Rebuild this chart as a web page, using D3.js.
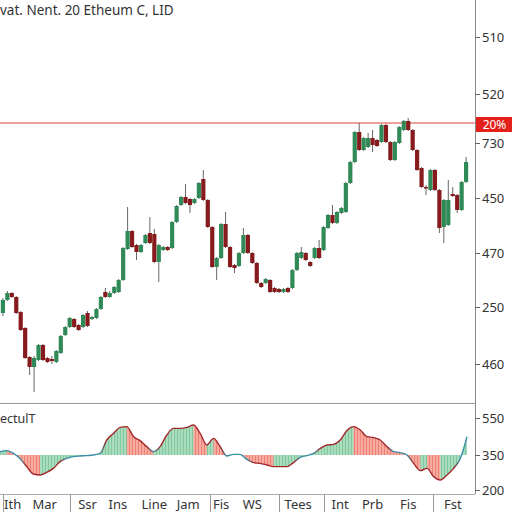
<!DOCTYPE html>
<html lang="en">
<head>
<meta charset="utf-8">
<title>candles</title>
<script src="https://cdn.jsdelivr.net/npm/d3@7"></script>
<style>
body { margin: 0; background: #fff; }
svg text { font-family: "Noto Sans", "Open Sans", sans-serif; }
</style>
</head>
<body>
<script>
var w = 512, h = 512;
var plotRight = 475;
var mainBottom = 403;
var indTop = 403, indBottom = 494;

// candle data (price units)
var opens = [1102,1128,1142,1134,1104,1072,1014,994,1008,1038,
  1012,1010,1004,1022,1058,1074,1090,1078,1074,1102,
  1090,1092,1110,1144,1134,1142,1144,1168,1230,1266,
  1238,1224,1242,1262,1260,1204,1228,1234,1232,1284,
  1318,1334,1330,1322,1332,1370,1328,1274,1194,1212,
  1280,1234,1198,1196,1222,1258,1222,1202,1162,1162,
  1168,1152,1150,1144,1152,1152,1188,1212,1222,1204,
  1212,1232,1228,1272,1298,1282,1302,1304,1362,1404,
  1464,1428,1434,1452,1448,1444,1478,1444,1408,1442,
  1468,1486,1468,1428,1392,1354,1348,1388,1348,1274,
  1278,1340,1338,1308,1364];
var closes = [1128,1142,1134,1102,1068,1012,994,1012,1038,1008,
  1004,1006,1026,1056,1074,1092,1074,1068,1098,1076,
  1094,1110,1134,1134,1142,1154,1168,1232,1266,1234,
  1224,1238,1258,1242,1204,1238,1234,1228,1284,1316,
  1334,1322,1318,1330,1362,1328,1274,1194,1212,1280,
  1234,1194,1192,1222,1258,1222,1202,1162,1154,1170,
  1144,1144,1144,1150,1144,1188,1222,1224,1208,1196,
  1232,1212,1274,1298,1282,1304,1312,1362,1404,1464,
  1428,1452,1452,1438,1436,1478,1444,1408,1444,1474,
  1486,1468,1428,1388,1354,1352,1388,1348,1272,1328,
  1328,1336,1308,1364,1404];
var highs = [1132,1146,1144,1136,1106,1074,1016,1016,1040,1040,
  1014,1016,1028,1058,1076,1094,1092,1080,1100,1106,
  1096,1112,1136,1152,1146,1156,1170,1234,1314,1268,
  1240,1240,1260,1294,1270,1240,1236,1236,1286,1318,
  1336,1360,1332,1332,1364,1388,1330,1276,1214,1282,
  1304,1236,1200,1224,1272,1260,1224,1204,1164,1172,
  1170,1154,1152,1152,1154,1190,1224,1234,1224,1206,
  1234,1248,1276,1300,1318,1306,1314,1364,1406,1466,
  1482,1454,1462,1468,1450,1480,1480,1446,1446,1476,
  1488,1492,1470,1430,1394,1358,1390,1390,1350,1330,
  1368,1354,1340,1366,1414];
var lows = [1096,1126,1132,1100,1066,1010,978,944,1006,1006,
  1002,1000,1002,1020,1056,1072,1072,1066,1072,1074,
  1088,1090,1108,1132,1132,1140,1142,1166,1228,1232,
  1208,1222,1240,1240,1202,1164,1226,1226,1230,1282,
  1316,1320,1302,1320,1330,1326,1272,1192,1168,1210,
  1232,1192,1182,1194,1220,1220,1200,1160,1152,1160,
  1142,1142,1142,1142,1142,1150,1186,1210,1206,1194,
  1210,1210,1226,1270,1280,1280,1300,1302,1360,1402,
  1426,1426,1432,1424,1434,1442,1442,1406,1406,1440,
  1466,1466,1426,1386,1352,1338,1346,1346,1262,1242,
  1276,1334,1302,1306,1362];

var priceTicks = [1000, 1114, 1222, 1332, 1442, 1540, 1654];
var priceTickLabels = ["460", "250", "470", "450", "730", "520", "510"];
var markerPrice = 1482;
var markerLabel = "20%";

// oscillator in the lower panel
var indValues = [17,22,8,-17,-58,-95,-100,-87,-67,-33,
  -17,-8,-5,-3,0,8,75,108,138,142,
  92,72,42,17,42,100,133,133,138,150,
  108,50,83,42,-5,3,3,-22,-38,-42,
  -50,-58,-58,-58,-38,-12,-3,8,33,50,
  53,75,122,142,125,92,87,75,42,17,
  12,0,-42,-78,-67,-108,-125,-100,-67,-17,
  92];
var indTicks = [185, 0, -175];
var indTickLabels = ["550", "350", "200"];

var titleText = "vat. Nent. 20 Etheum C, LID";
var indLabel = "ectulT";

var monthLabels = ["Ith", "Mar", "Ssr", "Ins", "Line", "Jam", "Fis", "WS", "Tees", "Int", "Prb", "Fis", "Fst"];
var monthIdx = [2.2, 9.4, 19, 25.8, 34, 41.6, 49, 56, 66.3, 75.7, 83, 91, 101];
var sepIdx = [0, 15, 46.5, 62, 72, 96.6];

var n = opens.length;
var upColor = "#2f8a57", downColor = "#861a1c";

var svg = d3.select("body").append("svg")
  .attr("width", w).attr("height", h);

var xScale = d3.scaleBand()
  .domain(d3.range(n))
  .range([0.8, 468.2])
  .paddingInner(0.06);
var xc = function(i) { return xScale(0) + xScale.step() * i + xScale.bandwidth() / 2; };

var yScale = d3.scaleLinear().domain([922, 1728]).range([mainBottom, 0]);

var indX = d3.scaleLinear().domain([0, indValues.length - 1]).range([0, 467]);
var indY = d3.scaleLinear().domain([-195, 260]).range([indBottom, indTop]);

// title
svg.append("text").attr("x", 0).attr("y", 15)
  .attr("font-size", "13.5px").attr("fill", "#333").text(titleText);

// marker line
svg.append("line")
  .attr("x1", 0).attr("x2", plotRight)
  .attr("y1", yScale(markerPrice)).attr("y2", yScale(markerPrice))
  .attr("stroke", "#d9413b").attr("stroke-width", 1);

// candles
var candles = svg.append("g").selectAll("g")
  .data(d3.range(n)).enter().append("g");
candles.append("line")
  .attr("x1", function(i) { return xc(i); })
  .attr("x2", function(i) { return xc(i); })
  .attr("y1", function(i) { return yScale(highs[i]); })
  .attr("y2", function(i) { return yScale(lows[i]); })
  .attr("stroke", "#666").attr("stroke-width", 1);
candles.append("rect")
  .attr("x", function(i) { return xScale(i); })
  .attr("width", xScale.bandwidth())
  .attr("y", function(i) { return yScale(Math.max(opens[i], closes[i])); })
  .attr("height", function(i) {
    return Math.max(1.5, Math.abs(yScale(opens[i]) - yScale(closes[i])));
  })
  .attr("fill", function(i) { return closes[i] >= opens[i] ? upColor : downColor; });

// panel borders
svg.append("line").attr("x1", 0).attr("x2", plotRight)
  .attr("y1", mainBottom + 0.5).attr("y2", mainBottom + 0.5)
  .attr("stroke", "#999");
svg.append("line").attr("x1", 0).attr("x2", plotRight)
  .attr("y1", indBottom + 0.5).attr("y2", indBottom + 0.5)
  .attr("stroke", "#aaa");
svg.append("line").attr("x1", plotRight + 0.5).attr("x2", plotRight + 0.5)
  .attr("y1", 0).attr("y2", indBottom)
  .attr("stroke", "#888");

// right axes
var yAxis = d3.axisRight(yScale).tickValues(priceTicks)
  .tickFormat(function(d, i) { return priceTickLabels[i]; })
  .tickSize(5).tickPadding(2);
var gy = svg.append("g").attr("transform", "translate(" + plotRight + ",0)").call(yAxis);
var indAxis = d3.axisRight(indY).tickValues(indTicks)
  .tickFormat(function(d, i) { return indTickLabels[i]; })
  .tickSize(5).tickPadding(2);
var gi = svg.append("g").attr("transform", "translate(" + plotRight + ",0)").call(indAxis);
[gy, gi].forEach(function(g) {
  g.select(".domain").remove();
  g.selectAll(".tick line").attr("stroke", "#666");
  g.selectAll(".tick text").attr("font-size", "13px").attr("fill", "#333")
    .attr("font-family", "Noto Sans, sans-serif");
});

// marker label
var my = yScale(markerPrice);
svg.append("rect").attr("x", plotRight + 1).attr("y", my - 6)
  .attr("width", w - plotRight - 1).attr("height", 15).attr("fill", "#e4201b");
svg.append("text").attr("x", (plotRight + w) / 2 + 1).attr("y", my + 6)
  .attr("text-anchor", "middle").attr("font-size", "12px").attr("fill", "#fff")
  .text(markerLabel);

// oscillator stripes
var defs = svg.append("defs");
function stripes(id, base, line) {
  var p = defs.append("pattern").attr("id", id)
    .attr("patternUnits", "userSpaceOnUse").attr("width", 3).attr("height", 10);
  p.append("rect").attr("width", 3).attr("height", 10).attr("fill", base);
  p.append("rect").attr("width", 1).attr("height", 10).attr("fill", line);
}
stripes("stG", "#a9dcbd", "#7fc79d");
stripes("stR", "#f7aaa0", "#ee8073");

var area = d3.area().curve(d3.curveMonotoneX)
  .x(function(d, i) { return indX(i); })
  .y0(indY(0))
  .y1(function(d) { return indY(d); });
defs.append("clipPath").attr("id", "indClip")
  .append("path").attr("d", area(indValues));

var segs = svg.append("g").attr("clip-path", "url(#indClip)");
segs.selectAll("rect").data(d3.range(indValues.length - 1)).enter().append("rect")
  .attr("x", function(i) { return indX(i); })
  .attr("width", function(i) { return indX(i + 1) - indX(i) + 0.3; })
  .attr("y", indTop).attr("height", indBottom - indTop)
  .attr("fill", function(i) {
    return indValues[i + 1] >= indValues[i] ? "url(#stG)" : "url(#stR)";
  });

// line colour: teal near zero, dark red elsewhere
var grad = defs.append("linearGradient").attr("id", "lineGrad")
  .attr("gradientUnits", "userSpaceOnUse")
  .attr("x1", indX(0)).attr("x2", indX(indValues.length - 1))
  .attr("y1", 0).attr("y2", 0);
indValues.forEach(function(v, i) {
  grad.append("stop")
    .attr("offset", i / (indValues.length - 1))
    .attr("stop-color", Math.abs(v) < 30 || i === indValues.length - 1 ? "#3a8ea8" : "#a4282a");
});
var line = d3.line().curve(d3.curveMonotoneX)
  .x(function(d, i) { return indX(i); })
  .y(function(d) { return indY(d); });
svg.append("path").attr("d", line(indValues))
  .attr("fill", "none").attr("stroke", "url(#lineGrad)").attr("stroke-width", 1.4);

svg.append("text").attr("x", 0).attr("y", 423)
  .attr("font-size", "12.5px").attr("fill", "#333").text(indLabel);

// bottom labels
svg.append("g").selectAll("text").data(monthLabels).enter().append("text")
  .attr("x", function(d, i) { return xc(monthIdx[i]); })
  .attr("y", 509)
  .attr("text-anchor", "middle")
  .attr("font-size", "13px").attr("fill", "#333")
  .text(function(d) { return d; });
svg.append("g").selectAll("line").data(sepIdx).enter().append("line")
  .attr("x1", function(d) { return Math.round(xc(d)) + 0.5; })
  .attr("x2", function(d) { return Math.round(xc(d)) + 0.5; })
  .attr("y1", indBottom).attr("y2", h)
  .attr("stroke", "#999");
</script>
</body>
</html>
